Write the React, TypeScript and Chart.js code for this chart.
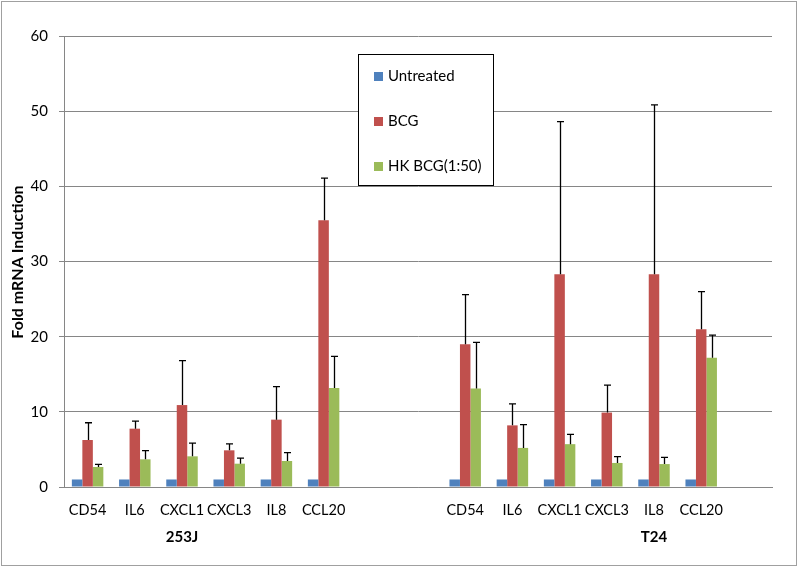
import React, { useEffect, useRef } from "react";
import { Chart, registerables } from "chart.js";

Chart.register(...registerables);

const categories = ["CD54", "IL6", "CXCL1", "CXCL3", "IL8", "CCL20", "", "", "CD54", "IL6", "CXCL1", "CXCL3", "IL8", "CCL20", ""];
const groupLabels = ["253J", "T24"];
const groupLabelIndex = [2, 12];
const seriesNames = ["Untreated", "BCG", "HK BCG(1:50)"];
const seriesColors = ["#4F81BD", "#C0504D", "#9BBB59"];

const untreated = [1, 1, 1, 1, 1, 1, null, null, 1, 1, 1, 1, 1, 1, null];
const bcg = [6.25, 7.76, 10.9, 4.88, 8.96, 35.5, null, null, 19.0, 8.2, 28.3, 9.9, 28.3, 21.0, null];
const hkBcg = [2.66, 3.68, 4.08, 3.1, 3.46, 13.17, null, null, 13.1, 5.2, 5.7, 3.2, 3.05, 17.2, null];

const untreatedErr = [0, 0, 0, 0, 0, 0, null, null, 0, 0, 0, 0, 0, 0, null];
const bcgErr = [2.3, 1.0, 5.9, 0.85, 4.4, 5.6, null, null, 6.6, 2.85, 20.3, 3.65, 22.55, 5.0, null];
const hkBcgErr = [0.35, 1.15, 1.75, 0.75, 1.1, 4.2, null, null, 6.15, 3.1, 1.3, 0.85, 0.9, 3.0, null];

const yTicks = [0, 10, 20, 30, 40, 50, 60];
const yTitle = "Fold mRNA Induction";

const FONT = "Lato, 'Open Sans', sans-serif";

const errorBarPlugin = {
  id: "errorBars",
  afterDatasetsDraw(chart: any) {
    const ctx = chart.ctx;
    const yScale = chart.scales.y;
    const errs = [untreatedErr, bcgErr, hkBcgErr];
    ctx.save();
    ctx.strokeStyle = "#000";
    ctx.lineWidth = 1.3;
    chart.data.datasets.forEach((ds: any, di: number) => {
      const meta = chart.getDatasetMeta(di);
      meta.data.forEach((el: any, i: number) => {
        const v = ds.data[i];
        const e = errs[di][i];
        if (v == null || !e) return;
        const top = yScale.getPixelForValue(v + e);
        const x = Math.round(el.x) + 0.5;
        ctx.beginPath();
        ctx.moveTo(x, el.y);
        ctx.lineTo(x, top);
        ctx.moveTo(x - 3.5, top);
        ctx.lineTo(x + 3.5, top);
        ctx.stroke();
      });
    });
    ctx.restore();
  },
};

const decorPlugin = {
  id: "decor",
  afterDraw(chart: any) {
    const ctx = chart.ctx;
    const xScale = chart.scales.x;
    ctx.save();
    // y title
    ctx.fillStyle = "#000";
    ctx.font = `bold 16px ${FONT}`;
    ctx.textAlign = "center";
    ctx.textBaseline = "middle";
    ctx.translate(18, 262);
    ctx.rotate(-Math.PI / 2);
    ctx.fillText(yTitle, 0, 0);
    ctx.restore();

    ctx.save();
    // group labels
    ctx.fillStyle = "#000";
    ctx.font = `bold 15px ${FONT}`;
    ctx.textAlign = "center";
    ctx.textBaseline = "middle";
    groupLabels.forEach((g, i) => {
      ctx.fillText(g, xScale.getPixelForValue(groupLabelIndex[i]), 537);
    });

    // legend
    const lx = 358.5, ly = 54.5, lw = 135, lh = 131;
    ctx.fillStyle = "#fff";
    ctx.fillRect(lx, ly, lw, lh);
    ctx.strokeStyle = "#000";
    ctx.lineWidth = 1;
    ctx.strokeRect(lx, ly, lw, lh);
    ctx.font = `15px ${FONT}`;
    ctx.textAlign = "left";
    seriesNames.forEach((n, i) => {
      const cy = 76 + i * 45;
      ctx.fillStyle = seriesColors[i];
      ctx.fillRect(374, cy - 4, 9, 9);
      ctx.fillStyle = "#000";
      ctx.fillText(n, 388, cy);
    });

    // outer border
    ctx.strokeStyle = "#a0a0a0";
    ctx.lineWidth = 1;
    ctx.strokeRect(1.5, 1.5, 795, 564);
    ctx.restore();
  },
};

export default function App() {
  const ref = useRef<HTMLCanvasElement>(null);
  useEffect(() => {
    if (!ref.current) return;
    const chart = new Chart(ref.current, {
      type: "bar",
      data: {
        labels: categories,
        datasets: [
          { label: seriesNames[0], data: untreated, backgroundColor: seriesColors[0] },
          { label: seriesNames[1], data: bcg, backgroundColor: seriesColors[1] },
          { label: seriesNames[2], data: hkBcg, backgroundColor: seriesColors[2] },
        ] as any,
      },
      options: {
        responsive: false,
        animation: false,
        layout: { padding: { top: 36, right: 28, left: 0, bottom: 0 } },
        datasets: { bar: { categoryPercentage: 0.667, barPercentage: 1, skipNull: false } } as any,
        plugins: { legend: { display: false }, tooltip: { enabled: false }, title: { display: false } },
        scales: {
          x: {
            grid: { display: false, drawTicks: false },
            border: { display: true, color: "#868686", width: 1 },
            ticks: {
              autoSkip: false,
              maxRotation: 0,
              color: "#000",
              font: { family: FONT, size: 14.5 },
              padding: 15,
            },
            afterFit: (s: any) => { s.height = 81; },
          },
          y: {
            min: 0,
            max: 60,
            afterBuildTicks: (s: any) => { s.ticks = yTicks.map((v) => ({ value: v })); },
            grid: { color: "#868686", tickLength: 5, lineWidth: 1 },
            border: { display: true, color: "#868686", width: 1 },
            ticks: { color: "#000", font: { family: FONT, size: 15 }, padding: 11 },
            afterFit: (s: any) => { s.width = 64; },
          },
        },
      },
      plugins: [errorBarPlugin, decorPlugin],
    });
    return () => chart.destroy();
  }, []);
  return (
    <div style={{ position: "fixed", left: 0, top: 0, width: 800, height: 568, background: "#fff" }}>
      <canvas ref={ref} width={800} height={568} />
    </div>
  );
}
